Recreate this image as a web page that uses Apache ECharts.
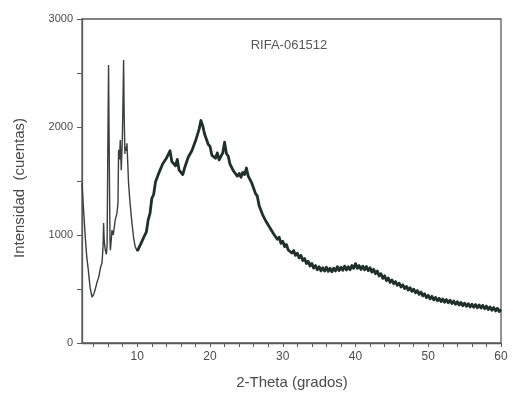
<!DOCTYPE html>
<html>
<head>
<meta charset="utf-8">
<script src="https://cdn.jsdelivr.net/npm/echarts@6/dist/echarts.min.js"></script>
<style>
html,body{margin:0;padding:0;background:#ffffff;}
#c{width:513px;height:396px;}
</style>
</head>
<body>
<div id="c"></div>
<script>
// ---- data ----
const sampleName = 'RIFA-061512';
const xTitle = '2-Theta (grados)';
const yTitle = 'Intensidad  (cuentas)';
const xTickValues = [4,6,8,10,12,14,16,18,20,22,24,26,28,30,32,34,36,38,40,42,44,46,48,50,52,54,56,58,60];
const xLabelValues = [10,20,30,40,50,60];
const yLabelValues = [0,1000,2000,3000];

// low-angle region (sharp reflections)
const thetaEarly = [2.4,2.6,2.85,3.05,3.27,3.5,3.77,4.0,4.2,4.45,4.7,4.95,5.15,5.3,5.37,5.45,5.6,5.75,5.85,5.95,6.05,6.15,6.25,6.3,6.45,6.52,6.7,6.97,7.2,7.35,7.43,7.55,7.66,7.8,7.95,8.05,8.12,8.2,8.3,8.35,8.5,8.58,8.7,8.8,9.0,9.27,9.5,9.72,10.0];
const countsEarly = [1480,1250,980,800,675,520,425,450,490,560,610,700,740,900,1110,950,860,820,900,1800,2574,1700,950,860,980,1045,1000,1140,1200,1300,1790,1700,1880,1600,1900,2300,2620,2100,1750,1815,1780,1850,1650,1480,1300,1110,970,890,850];

// amorphous hump and tail (noisy)
const thetaMain = [10.0,10.25,10.5,10.75,11.0,11.25,11.5,11.75,12.0,12.25,12.5,12.75,13.0,13.25,13.5,13.75,14.0,14.25,14.5,14.75,15.0,15.25,15.5,15.75,16.0,16.25,16.5,16.75,17.0,17.25,17.5,17.75,18.0,18.25,18.5,18.75,19.0,19.25,19.5,19.75,20.0,20.25,20.5,20.75,21.0,21.25,21.5,21.75,22.0,22.25,22.5,22.75,23.0,23.25,23.5,23.75,24.0,24.25,24.5,24.75,25.0,25.25,25.5,25.75,26.0,26.25,26.5,26.75,27.0,27.25,27.5,27.75,28.0,28.25,28.5,28.75,29.0,29.25,29.5,29.75,30.0,30.25,30.5,30.75,31.0,31.25,31.5,31.75,32.0,32.25,32.5,32.75,33.0,33.25,33.5,33.75,34.0,34.25,34.5,34.75,35.0,35.25,35.5,35.75,36.0,36.25,36.5,36.75,37.0,37.25,37.5,37.75,38.0,38.25,38.5,38.75,39.0,39.25,39.5,39.75,40.0,40.25,40.5,40.75,41.0,41.25,41.5,41.75,42.0,42.25,42.5,42.75,43.0,43.25,43.5,43.75,44.0,44.25,44.5,44.75,45.0,45.25,45.5,45.75,46.0,46.25,46.5,46.75,47.0,47.25,47.5,47.75,48.0,48.25,48.5,48.75,49.0,49.25,49.5,49.75,50.0,50.25,50.5,50.75,51.0,51.25,51.5,51.75,52.0,52.25,52.5,52.75,53.0,53.25,53.5,53.75,54.0,54.25,54.5,54.75,55.0,55.25,55.5,55.75,56.0,56.25,56.5,56.75,57.0,57.25,57.5,57.75,58.0,58.25,58.5,58.75,59.0,59.25,59.5,59.75,60.0];
const countsMain = [850,847,920,918,995,1028,1140,1200,1340,1375,1490,1495,1580,1580,1660,1645,1710,1705,1780,1680,1660,1640,1700,1600,1580,1560,1620,1630,1720,1710,1780,1785,1870,1885,1980,2060,2010,1935,1940,1840,1820,1740,1740,1710,1760,1695,1710,1760,1860,1755,1730,1655,1660,1590,1600,1545,1570,1535,1580,1560,1620,1545,1550,1480,1490,1385,1360,1270,1260,1185,1190,1120,1130,1065,1080,1010,1020,960,980,923,942,893,912,861,877,833,857,811,832,788,812,763,782,736,757,713,737,693,717,678,707,668,697,666,702,663,692,659,693,666,707,671,702,673,712,676,707,678,717,691,735,691,717,681,712,677,709,669,697,656,682,641,667,621,642,598,622,578,602,561,584,549,569,534,554,519,539,504,524,490,512,478,499,465,486,451,472,436,456,421,442,409,432,399,422,390,414,383,407,377,402,372,397,365,389,358,382,351,376,345,369,339,364,334,359,330,356,326,352,323,349,318,342,310,334,303,328,297,322,292,310];

const early = thetaEarly.map((t,i)=>[t,countsEarly[i]]);
const main = thetaMain.map((t,i)=>[t,countsMain[i]]);

const axisGrey = '#5a5a5a';
const textGrey = '#4a4a4a';
const font = 'Liberation Sans, Arial, sans-serif';

const chart = echarts.init(document.getElementById('c'), null, {renderer:'canvas'});
chart.setOption({
  backgroundColor:'#ffffff',
  animation:false,
  grid:{left:82,right:12,top:19,bottom:53,show:true,borderColor:axisGrey,borderWidth:1.3,backgroundColor:'transparent'},
  xAxis:{
    type:'value',min:2.4,max:60,
    axisLine:{show:true,lineStyle:{color:axisGrey,width:1.3}},
    axisTick:{show:true,length:4,customValues:xTickValues,lineStyle:{color:axisGrey,width:1}},
    axisLabel:{customValues:xLabelValues,color:textGrey,fontSize:12,fontFamily:font,margin:8},
    splitLine:{show:false}
  },
  yAxis:{
    type:'value',min:0,max:3000,interval:500,
    axisLine:{show:true,lineStyle:{color:axisGrey,width:1.3}},
    axisTick:{show:true,length:5,lineStyle:{color:axisGrey,width:1}},
    axisLabel:{color:textGrey,fontSize:11,fontFamily:font,margin:9,
      formatter:v=>yLabelValues.indexOf(v)>=0?String(v):''},
    splitLine:{show:false}
  },
  graphic:[
    {type:'text',x:289,y:45,style:{text:sampleName,fill:'#555',font:'13px '+font,textAlign:'center',textVerticalAlign:'middle'}},
    {type:'text',x:292,y:383,style:{text:xTitle,fill:textGrey,font:'15px '+font,textAlign:'center',textVerticalAlign:'middle'}},
    {type:'text',x:20,y:188,rotation:Math.PI/2,style:{text:yTitle,fill:textGrey,font:'15px '+font,textAlign:'center',textVerticalAlign:'middle'}}
  ],
  series:[
    {type:'line',data:early,showSymbol:false,sampling:'none',lineStyle:{color:'#3a3f3d',width:1.4},z:3},
    {type:'line',data:main,showSymbol:false,sampling:'none',lineStyle:{color:'#1f302a',width:2.8,join:'round'},z:3}
  ]
});
</script>
</body>
</html>
